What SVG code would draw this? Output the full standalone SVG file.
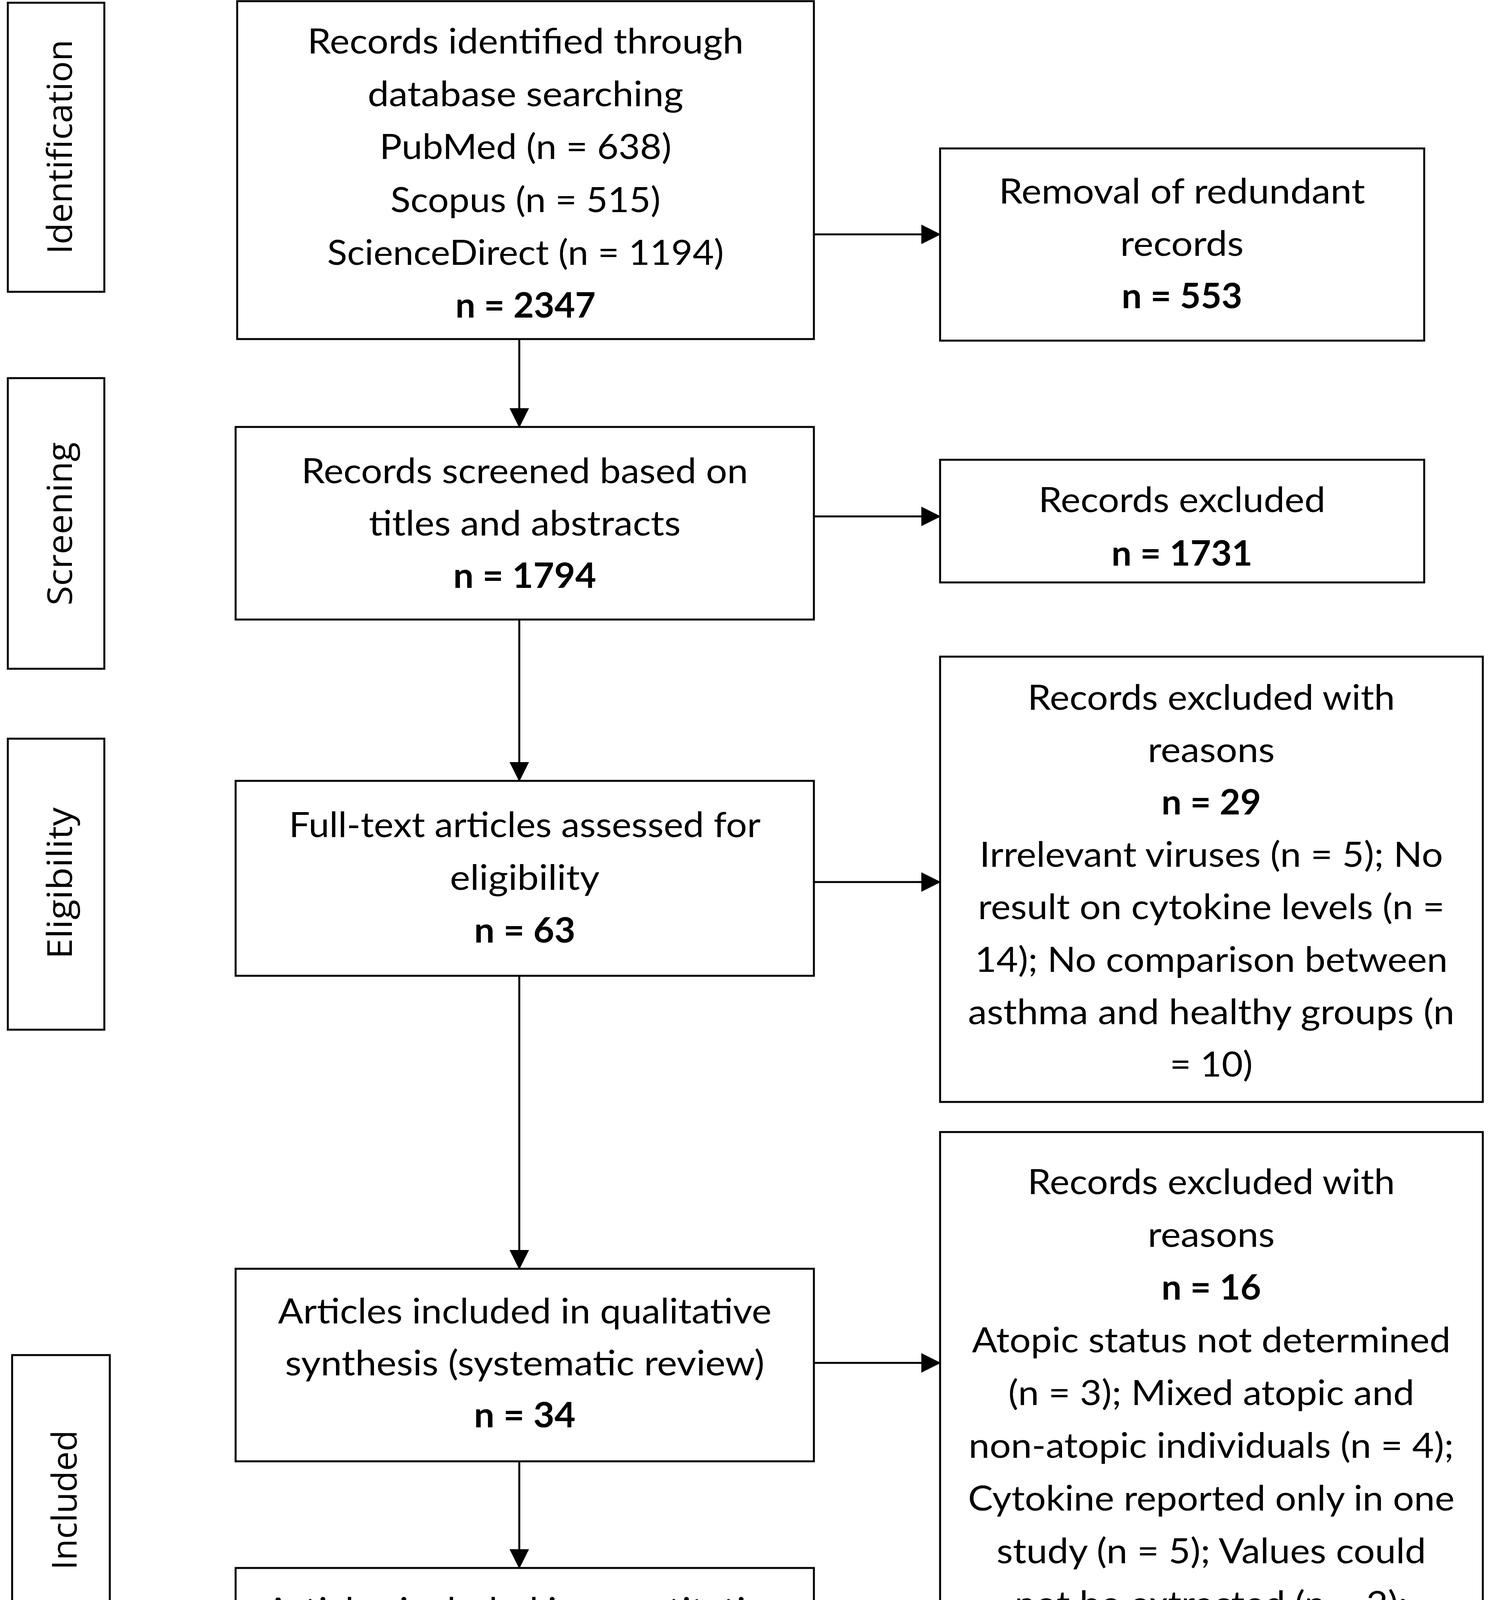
<svg xmlns="http://www.w3.org/2000/svg" width="3839" height="4511" viewBox="0 0 3839 4511">
<style>
.box{fill:#fff;stroke:#000;stroke-width:5}
.t{font-family:Lato,"Liberation Sans",sans-serif;font-size:90px;fill:#000;text-anchor:middle}
.b{font-weight:700}
.lab{font-family:"Open Sans","DejaVu Sans",sans-serif;font-size:88px;fill:#000;text-anchor:middle}
.ln{stroke:#000;stroke-width:5;fill:none;marker-end:url(#ah)}
</style>
<defs>
<marker id="ah" markerUnits="userSpaceOnUse" markerWidth="50" markerHeight="50" refX="48" refY="25" orient="auto">
<path d="M0,0 L50,25 L0,50 z" fill="#000"/>
</marker>
</defs>
<rect width="3839" height="4511" fill="#fff"/>

<g id="phase-identification">
<rect class="box" x="20" y="7" width="247" height="740"/>
<text class="lab" transform="translate(184,376) rotate(-90)" textLength="549" lengthAdjust="spacingAndGlyphs">Identification</text>
</g>
<g id="phase-screening">
<rect class="box" x="20" y="968" width="247" height="744"/>
<text class="lab" transform="translate(184,1341) rotate(-90)" textLength="418" lengthAdjust="spacingAndGlyphs">Screening</text>
</g>
<g id="phase-eligibility">
<rect class="box" x="20" y="1891" width="247" height="745"/>
<text class="lab" transform="translate(184,2261) rotate(-90)" textLength="388" lengthAdjust="spacingAndGlyphs">Eligibility</text>
</g>
<g id="phase-included">
<rect class="box" x="31" y="3469" width="250" height="746"/>
<text class="lab" transform="translate(196,3840) rotate(-90)" textLength="358" lengthAdjust="spacingAndGlyphs">Included</text>
</g>

<g id="node-identified">
<rect class="box" x="607" y="3" width="1476" height="865"/>
<text class="t" x="1345" y="137" textLength="1116" lengthAdjust="spacingAndGlyphs">Records identified through</text>
<text class="t" x="1345" y="272" textLength="808" lengthAdjust="spacingAndGlyphs">database searching</text>
<text class="t" x="1345" y="407" textLength="747" lengthAdjust="spacingAndGlyphs">PubMed (n = 638)</text>
<text class="t" x="1345" y="543" textLength="691" lengthAdjust="spacingAndGlyphs">Scopus (n = 515)</text>
<text class="t" x="1345" y="678" textLength="1015" lengthAdjust="spacingAndGlyphs">ScienceDirect (n = 1194)</text>
<text class="t b" x="1345" y="813" textLength="359" lengthAdjust="spacingAndGlyphs">n = 2347</text>
</g>

<g id="node-redundant">
<rect class="box" x="2406" y="380" width="1239" height="492"/>
<text class="t" x="3025" y="521" textLength="937" lengthAdjust="spacingAndGlyphs">Removal of redundant</text>
<text class="t" x="3025" y="655" textLength="316" lengthAdjust="spacingAndGlyphs">records</text>
<text class="t b" x="3025" y="789" textLength="309" lengthAdjust="spacingAndGlyphs">n = 553</text>
</g>

<g id="node-screened">
<rect class="box" x="603" y="1093" width="1480" height="493"/>
<text class="t" x="1343" y="1237" textLength="1143" lengthAdjust="spacingAndGlyphs">Records screened based on</text>
<text class="t" x="1343" y="1371" textLength="798" lengthAdjust="spacingAndGlyphs">titles and abstracts</text>
<text class="t b" x="1343" y="1505" textLength="366" lengthAdjust="spacingAndGlyphs">n = 1794</text>
</g>

<g id="node-excluded">
<rect class="box" x="2406" y="1177" width="1239" height="314"/>
<text class="t" x="3025" y="1311" textLength="734" lengthAdjust="spacingAndGlyphs">Records excluded</text>
<text class="t b" x="3025" y="1448" textLength="361" lengthAdjust="spacingAndGlyphs">n = 1731</text>
</g>

<g id="node-fulltext">
<rect class="box" x="603" y="1999" width="1480" height="499"/>
<text class="t" x="1343" y="2143" textLength="1207" lengthAdjust="spacingAndGlyphs">Full-text articles assessed for</text>
<text class="t" x="1343" y="2278" textLength="383" lengthAdjust="spacingAndGlyphs">eligibility</text>
<text class="t b" x="1343" y="2413" textLength="259" lengthAdjust="spacingAndGlyphs">n = 63</text>
</g>

<g id="node-excluded-29">
<rect class="box" x="2406" y="1681" width="1389" height="1140"/>
<text class="t" x="3100" y="1817" textLength="940" lengthAdjust="spacingAndGlyphs">Records excluded with</text>
<text class="t" x="3100" y="1951" textLength="325" lengthAdjust="spacingAndGlyphs">reasons</text>
<text class="t b" x="3100" y="2085" textLength="255" lengthAdjust="spacingAndGlyphs">n = 29</text>
<text class="t" x="3100" y="2219" textLength="1186" lengthAdjust="spacingAndGlyphs">Irrelevant viruses (n = 5); No</text>
<text class="t" x="3100" y="2353" textLength="1194" lengthAdjust="spacingAndGlyphs">result on cytokine levels (n =</text>
<text class="t" x="3100" y="2488" textLength="1210" lengthAdjust="spacingAndGlyphs">14); No comparison between</text>
<text class="t" x="3100" y="2622" textLength="1245" lengthAdjust="spacingAndGlyphs">asthma and healthy groups (n</text>
<text class="t" x="3100" y="2756" textLength="212" lengthAdjust="spacingAndGlyphs">= 10)</text>
</g>

<g id="node-qualitative">
<rect class="box" x="603" y="3248" width="1480" height="493"/>
<text class="t" x="1343" y="3388" textLength="1263" lengthAdjust="spacingAndGlyphs">Articles included in qualitative</text>
<text class="t" x="1343" y="3521" textLength="1227" lengthAdjust="spacingAndGlyphs">synthesis (systematic review)</text>
<text class="t b" x="1343" y="3654" textLength="260" lengthAdjust="spacingAndGlyphs">n = 34</text>
</g>

<g id="node-excluded-16">
<rect class="box" x="2406" y="2898" width="1389" height="1608"/>
<text class="t" x="3100" y="3057" textLength="940" lengthAdjust="spacingAndGlyphs">Records excluded with</text>
<text class="t" x="3100" y="3192" textLength="325" lengthAdjust="spacingAndGlyphs">reasons</text>
<text class="t b" x="3100" y="3327" textLength="255" lengthAdjust="spacingAndGlyphs">n = 16</text>
<text class="t" x="3100" y="3462" textLength="1225" lengthAdjust="spacingAndGlyphs">Atopic status not determined</text>
<text class="t" x="3100" y="3597" textLength="1039" lengthAdjust="spacingAndGlyphs">(n = 3); Mixed atopic and</text>
<text class="t" x="3100" y="3732" textLength="1242" lengthAdjust="spacingAndGlyphs">non-atopic individuals (n = 4);</text>
<text class="t" x="3100" y="3867" textLength="1245" lengthAdjust="spacingAndGlyphs">Cytokine reported only in one</text>
<text class="t" x="3100" y="4002" textLength="1099" lengthAdjust="spacingAndGlyphs">study (n = 5); Values could</text>
<text class="t" x="3100" y="4137" textLength="1006" lengthAdjust="spacingAndGlyphs">not be extracted (n = 2);</text>
<text class="t" x="3100" y="4272" textLength="1144" lengthAdjust="spacingAndGlyphs">Unclear sample size (n = 1);</text>
<text class="t" x="3100" y="4407" textLength="1124" lengthAdjust="spacingAndGlyphs">Multiple age groups (n = 1)</text>
</g>

<g id="node-quantitative">
<rect class="box" x="603" y="4014" width="1480" height="492"/>
<text class="t" x="1343" y="4154" textLength="1327" lengthAdjust="spacingAndGlyphs">Articles included in quantitative</text>
<text class="t" x="1343" y="4288" textLength="1053" lengthAdjust="spacingAndGlyphs">synthesis (meta-analysis)</text>
<text class="t b" x="1343" y="4422" textLength="260" lengthAdjust="spacingAndGlyphs">n = 18</text>
</g>

<g id="connectors">
<line class="ln" x1="2083" y1="600" x2="2406" y2="600"/>
<line class="ln" x1="1329" y1="868" x2="1329" y2="1093"/>
<line class="ln" x1="2083" y1="1322" x2="2406" y2="1322"/>
<line class="ln" x1="1329" y1="1586" x2="1329" y2="1999"/>
<line class="ln" x1="2083" y1="2258" x2="2406" y2="2258"/>
<line class="ln" x1="1329" y1="2498" x2="1329" y2="3248"/>
<line class="ln" x1="2083" y1="3489" x2="2406" y2="3489"/>
<line class="ln" x1="1329" y1="3741" x2="1329" y2="4014"/>
</g>
</svg>
